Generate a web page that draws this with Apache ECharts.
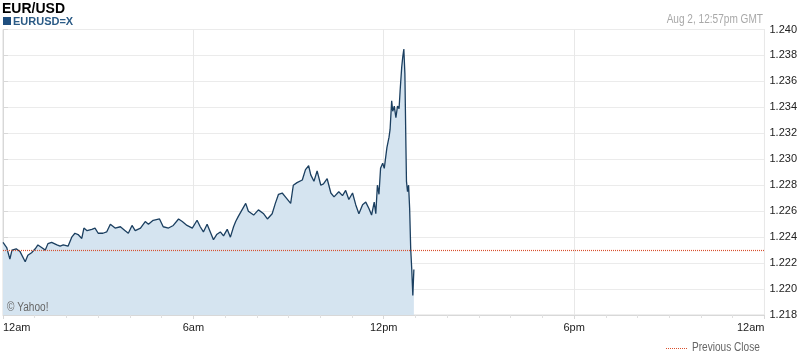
<!DOCTYPE html>
<html>
<head>
<meta charset="utf-8">
<script src="https://cdn.jsdelivr.net/npm/echarts@6/dist/echarts.min.js"></script>
<style>
html,body{margin:0;padding:0;background:#fff;}
#c{width:800px;height:358px;}
</style>
</head>
<body>
<div id="c"></div>
<script>
// minutes since midnight GMT
const times = [0,7,13,17,25,32,35,42,47,54,61,66,73,80,85,92,102,108,114,123,130,136,142,149,153,159,168,174,180,189,196,203,212,222,231,237,244,250,260,269,275,284,296,303,313,322,332,339,348,358,367,373,379,386,392,398,404,411,417,424,430,436,440,445,452,459,464,474,483,493,500,509,515,521,528,534,544,549,556,566,572,578,582,588,594,601,606,613,620,626,635,642,648,654,661,667,673,680,686,692,697,702,705,708,711,714,718,721,726,730,732,735,737,740,743,746,749,751,754,756,758,760,762,763,765,767,769,771,773,775,777];
const rates = [1.2236,1.2232,1.2223,1.2230,1.2231,1.2229,1.2228,1.2221,1.2226,1.2228,1.2231,1.2234,1.2232,1.2230,1.2235,1.2236,1.2234,1.2233,1.2234,1.2233,1.2240,1.2243,1.2242,1.2239,1.2247,1.2245,1.2246,1.2247,1.2243,1.2243,1.2244,1.2250,1.2247,1.2248,1.2245,1.2243,1.2249,1.2245,1.2247,1.2252,1.2250,1.2253,1.2254,1.2248,1.2247,1.2249,1.2254,1.2252,1.2249,1.2247,1.2253,1.2248,1.2244,1.2250,1.2244,1.2238,1.2242,1.2244,1.2241,1.2246,1.2240,1.2248,1.2252,1.2256,1.2261,1.2266,1.2260,1.2257,1.2261,1.2258,1.2254,1.2258,1.2266,1.2273,1.2274,1.2271,1.2266,1.2280,1.2282,1.2284,1.2292,1.2295,1.2288,1.2283,1.2291,1.2280,1.2281,1.2285,1.2274,1.2271,1.2275,1.2272,1.2276,1.2269,1.2274,1.2265,1.2258,1.2265,1.2267,1.2262,1.2257,1.2267,1.2258,1.2280,1.2273,1.2293,1.2297,1.2293,1.2309,1.2317,1.2323,1.2345,1.2337,1.2341,1.2332,1.2341,1.2339,1.2353,1.2371,1.2379,1.2385,1.2366,1.2309,1.2283,1.2275,1.2280,1.2262,1.2231,1.2215,1.2195,1.2215];
const previousClose = 1.2230;
const xTickLabels = ['12am','6am','12pm','6pm','12am'];

const data = times.map((t,i)=>[t,rates[i]]);
const chart = echarts.init(document.getElementById('c'));
const FONT = '"Liberation Sans", Arial, sans-serif';
chart.setOption({
  animation:false,
  backgroundColor:'#fff',
  title:[
    {text:'EUR/USD',left:2,top:2,padding:0,textStyle:{fontFamily:FONT,fontSize:14,fontWeight:'bold',color:'#000'}},
    {text:'EURUSD=X',left:13,top:16,padding:0,textStyle:{fontFamily:FONT,fontSize:11,fontWeight:'bold',color:'#2b5b86'}}
  ],
  graphic:[
    {type:'rect',z:100,shape:{x:3,y:17,width:8,height:8},style:{fill:'#1f4f7f'}},
    {type:'text',z:100,x:763,y:14,scaleX:0.84,style:{text:'Aug 2, 12:57pm GMT',font:'12px '+FONT,fill:'#a8a8a8',align:'right',verticalAlign:'top'}},
    {type:'text',z:100,x:7,y:302,scaleX:0.84,style:{text:'© Yahoo!',font:'12px '+FONT,fill:'#666',align:'left',verticalAlign:'top'}},
    {type:'line',z:100,shape:{x1:666,y1:348.5,x2:688,y2:348.5},style:{stroke:'#d9502e',lineWidth:1,lineDash:[1,1]}},
    {type:'text',z:100,x:692,y:342,scaleX:0.84,style:{text:'Previous Close',font:'12px '+FONT,fill:'#666',align:'left',verticalAlign:'top'}}
  ],
  grid:{left:3,right:35,top:29.5,bottom:43,show:true,borderColor:'#dcdcdc',borderWidth:1,containLabel:false},
  xAxis:{
    type:'value',min:0,max:1440,interval:360,
    axisLine:{show:true,lineStyle:{color:'#d8d8d8'}},
    axisTick:{show:true,length:4,inside:false,lineStyle:{color:'#d8d8d8'}},
    minorTick:{show:true,splitNumber:6,length:3,lineStyle:{color:'#e0e0e0'}},
    splitLine:{show:true,lineStyle:{color:'#e8e8e8'}},
    axisLabel:{
      margin:7,color:'#222',fontFamily:FONT,fontSize:11,
      alignMinLabel:'left',alignMaxLabel:'right',
      formatter:(v)=>xTickLabels[Math.round(v/360)]
    }
  },
  yAxis:{
    type:'value',position:'right',min:1.218,max:1.240,interval:0.002,
    axisLine:{show:true,lineStyle:{color:'#d8d8d8'}},
    axisTick:{show:true,length:5,lineStyle:{color:'#d8d8d8'}},
    splitLine:{show:true,lineStyle:{color:'#ebebeb'}},
    axisLabel:{margin:5,color:'#222',fontFamily:FONT,fontSize:11,formatter:(v)=>v.toFixed(3)}
  },
  series:[{
    type:'line',data:data,symbol:'none',
    lineStyle:{color:'#1b3f60',width:1.3},
    areaStyle:{color:'#d5e4f0',opacity:1,origin:'start'},
    markLine:{
      silent:true,symbol:'none',precision:4,label:{show:false},
      lineStyle:{color:'#d9502e',type:[1,1],width:1.2,opacity:1},
      emphasis:{disabled:true},
      data:[{yAxis:previousClose}]
    }
  }]
});
</script>
</body>
</html>
